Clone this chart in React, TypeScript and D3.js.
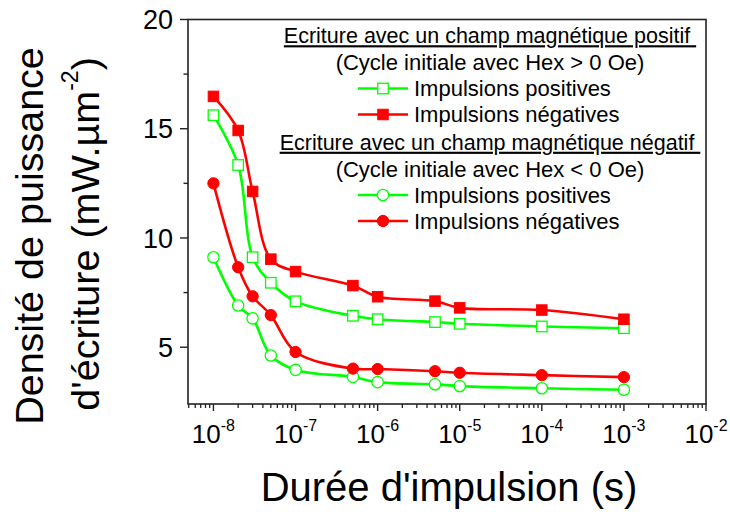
import React from 'react';
import * as d3 from 'd3';

const durations = [1e-8, 2e-8, 3e-8, 5e-8, 1e-7, 5e-7, 1e-6, 5e-6, 1e-5, 1e-4, 1e-3];
const posFieldPosPulse = [15.62, 13.34, 9.12, 7.95, 7.1, 6.44, 6.28, 6.15, 6.07, 5.95, 5.87];
const posFieldNegPulse = [16.48, 14.92, 12.13, 9.03, 8.46, 7.82, 7.31, 7.11, 6.8, 6.7, 6.28];
const negFieldPosPulse = [9.12, 6.91, 6.32, 4.62, 3.96, 3.64, 3.4, 3.3, 3.22, 3.12, 3.05];
const negFieldNegPulse = [12.5, 8.66, 7.33, 6.47, 4.78, 4.02, 4.0, 3.9, 3.83, 3.72, 3.63];

const yMajorTicks = [5, 10, 15, 20];
const yMinorTicks = [7.5, 12.5, 17.5];
const xDecades = [-8, -7, -6, -5, -4, -3, -2];

const legendGroups = [
  { title: 'Ecriture avec un champ magnétique positif', subtitle: '(Cycle initiale avec Hex > 0 Oe)' },
  { title: 'Ecriture avec un champ magnétique négatif', subtitle: '(Cycle initiale avec Hex < 0 Oe)' },
];
const entryLabels = ['Impulsions positives', 'Impulsions négatives'];

const GREEN = '#00FF00';
const RED = '#FF0000';
const FONT = 'Liberation Sans, Arial, sans-serif';

const series = [
  { values: posFieldPosPulse, color: GREEN, shape: 'square', filled: false },
  { values: posFieldNegPulse, color: RED, shape: 'square', filled: true },
  { values: negFieldPosPulse, color: GREEN, shape: 'circle', filled: false },
  { values: negFieldNegPulse, color: RED, shape: 'circle', filled: true },
];

function Marker({ x, y, shape, filled, color }: any) {
  const s = 10.5;
  if (shape === 'square') {
    return (
      <rect x={x - s / 2} y={y - s / 2} width={s} height={s}
        fill={filled ? color : '#fff'} stroke={color} strokeWidth={filled ? 1 : 1.3} />
    );
  }
  return <circle cx={x} cy={y} r={s / 2 + 0.4} fill={filled ? color : '#fff'} stroke={color} strokeWidth={filled ? 1 : 1.3} />;
}

export default function App() {
  const W = 730, H = 512;
  const L = 188, R = 706, T = 19.5, B = 404;
  const x = d3.scaleLog().domain([Math.pow(10, -8.31), 1e-2]).range([L, R]);
  const y = d3.scaleLinear().domain([2.4, 20]).range([B, T]);

  const line = d3.line<[number, number]>()
    .x((d) => x(d[0]))
    .y((d) => y(d[1]))
    .curve(d3.curveCatmullRom.alpha(0.5));

  const xMinor: number[] = [];
  for (let e = -9; e < -2; e++) {
    for (let m = 2; m <= 9; m++) {
      const v = m * Math.pow(10, e);
      if (v >= x.domain()[0] && v <= 1e-2) xMinor.push(v);
    }
  }

  const legendCenterX = 490;
  const groupTops = [35.5, 142];
  const rowOffsets = [27, 53, 79];
  const symX0 = 358, symX1 = 408, symC = 383, textX = 414;

  return (
    <svg width={W} height={H} style={{ display: 'block', position: 'absolute', left: 0, top: 0 }} fontFamily={FONT}>
      <rect x={0} y={0} width={W} height={H} fill="#fff" />
      {series.map((s, i) => (
        <path key={'l' + i} d={line(durations.map((d, j) => [d, s.values[j]]) as any) || ''}
          fill="none" stroke={s.color} strokeWidth={2.6} />
      ))}
      {series.map((s, i) => (
        <g key={'m' + i}>
          {durations.map((d, j) => (
            <Marker key={j} x={x(d)} y={y(s.values[j])} shape={s.shape} filled={s.filled} color={s.color} />
          ))}
        </g>
      ))}
      <rect x={L} y={T} width={R - L} height={B - T} fill="none" stroke="#222" strokeWidth={1.6} />
      {yMajorTicks.map((v) => (
        <g key={'ym' + v}>
          <line x1={L - 8} x2={L} y1={y(v)} y2={y(v)} stroke="#222" strokeWidth={1.4} />
          <text x={L - 15} y={y(v)} dy="0.36em" textAnchor="end" fontSize={27} fill="#000">{v}</text>
        </g>
      ))}
      {yMinorTicks.map((v) => (
        <line key={'yn' + v} x1={L - 4.5} x2={L} y1={y(v)} y2={y(v)} stroke="#222" strokeWidth={1.4} />
      ))}
      {xDecades.map((e) => {
        const v = Math.pow(10, e);
        return (
          <g key={'xm' + e}>
            <line x1={x(v)} x2={x(v)} y1={B} y2={B + 7} stroke="#222" strokeWidth={1.4} />
            <text x={x(v)} y={443} textAnchor="middle" fontSize={26} fill="#000">
              10<tspan fontSize={16} dy={-12}>{e}</tspan>
            </text>
          </g>
        );
      })}
      {xMinor.map((v, i) => (
        <line key={'xn' + i} x1={x(v)} x2={x(v)} y1={B} y2={B + 4} stroke="#222" strokeWidth={1.3} />
      ))}
      <text x={449} y={501} textAnchor="middle" fontSize={40} fill="#000">Durée d'impulsion (s)</text>
      <text transform="translate(43,236) rotate(-90)" textAnchor="middle" fontSize={39.5} fill="#000">Densité de puissance</text>
      <text transform="translate(99,234) rotate(-90)" textAnchor="middle" fontSize={39.5} fill="#000">
        d'écriture (mW.µm<tspan fontSize={23} dy={-21}>-2</tspan><tspan dy={21}>)</tspan>
      </text>
      {legendGroups.map((g, gi) => {
        const top = groupTops[gi];
        const rows = [top + rowOffsets[1], top + rowOffsets[2]];
        return (
          <g key={'lg' + gi}>
            <text x={legendCenterX} y={top} dy="0.36em" textAnchor="middle" fontSize={21.5} textDecoration="underline" fill="#000">{g.title + '\u00a0'}</text>
            <text x={legendCenterX} y={top + rowOffsets[0]} dy="0.36em" textAnchor="middle" fontSize={22} fill="#000">{g.subtitle}</text>
            {entryLabels.map((lab, k) => {
              const s = series[gi * 2 + k];
              return (
                <g key={k}>
                  <line x1={symX0} x2={symX1} y1={rows[k]} y2={rows[k]} stroke={s.color} strokeWidth={2.6} />
                  <Marker x={symC} y={rows[k]} shape={s.shape} filled={s.filled} color={s.color} />
                  <text x={textX} y={rows[k]} dy="0.36em" fontSize={22} fill="#000">{lab}</text>
                </g>
              );
            })}
          </g>
        );
      })}
    </svg>
  );
}
